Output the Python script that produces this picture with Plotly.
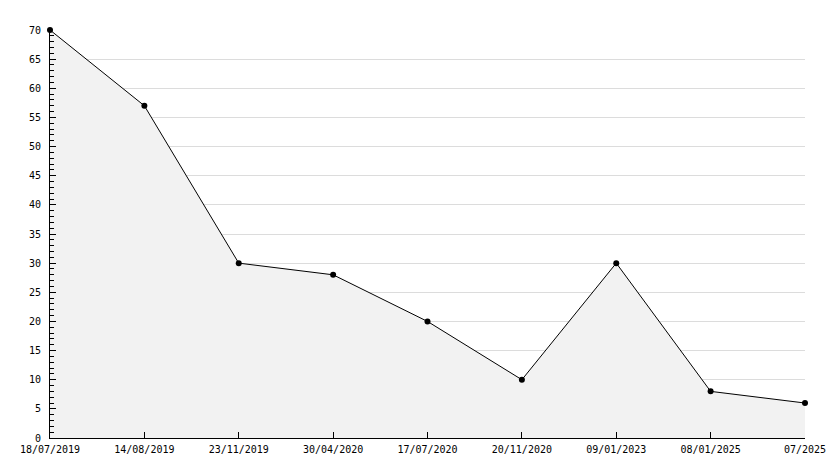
import plotly.graph_objects as go

dates = ["18/07/2019", "14/08/2019", "23/11/2019", "30/04/2020", "17/07/2020",
         "20/11/2020", "09/01/2023", "08/01/2025", "07/2025"]
values = [70, 57, 30, 28, 20, 10, 30, 8, 6]

fig = go.Figure()
fig.add_trace(go.Scatter(
    x=list(range(len(dates))), y=values, mode="lines+markers",
    line=dict(color="black", width=1),
    marker=dict(color="black", size=6, symbol="circle"),
    fill="tozeroy", fillcolor="#f2f2f2",
    cliponaxis=False,
))

fig.update_layout(
    width=834, height=468,
    margin=dict(l=50, r=29, t=30, b=30),
    paper_bgcolor="white", plot_bgcolor="white",
    font=dict(family="DejaVu Sans Mono", size=10, color="black"),
    showlegend=False,
    xaxis=dict(
        range=[0, len(dates) - 1], automargin=False,
        tickmode="array", tickvals=list(range(len(dates))), ticktext=dates,
        showgrid=False, zeroline=False,
        showline=True, linecolor="black", linewidth=1,
        ticks="inside", ticklen=6, tickcolor="black",
        ticklabelstandoff=2,
    ),
    yaxis=dict(
        range=[0, 70], dtick=5, automargin=False,
        showgrid=True, gridcolor="#dcdcdc", gridwidth=1,
        zeroline=False,
        showline=True, linecolor="black", linewidth=1,
        ticks="inside", ticklen=6, tickcolor="black",
        ticklabelstandoff=6,
        minor=dict(dtick=1, ticks="inside", ticklen=4, tickcolor="black", showgrid=False),
    ),
)

fig.write_html("out.html", config={"displayModeBar": False},
               post_script="document.body.style.margin='0';")
